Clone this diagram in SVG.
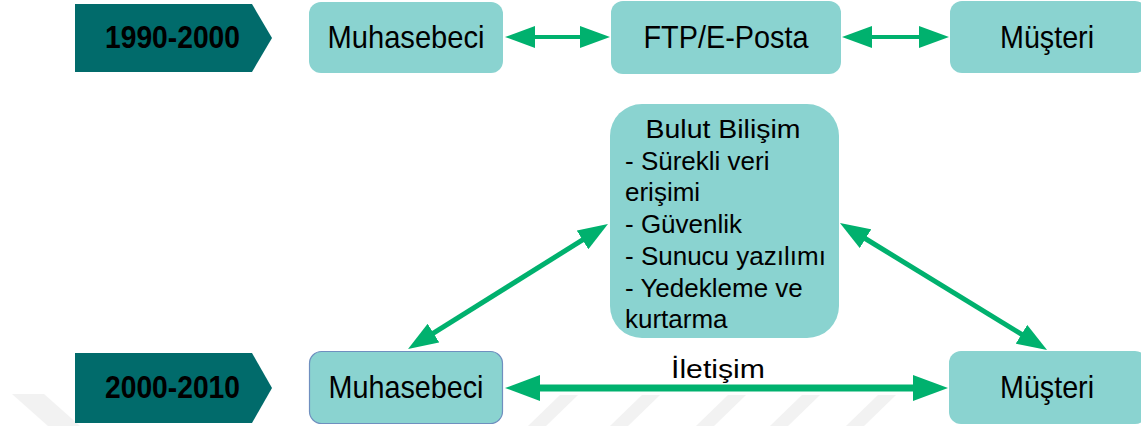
<svg xmlns="http://www.w3.org/2000/svg" width="1141" height="426" viewBox="0 0 1141 426">
  <style>
    .era { fill: #016B6B; }
    .era-t { font-family: "Liberation Sans", Arial, sans-serif; font-weight: bold; font-size: 32px; fill: #000; text-anchor: middle; }
    .box { fill: #8AD3D0; }
    .lbl { font-family: "Liberation Sans", Arial, sans-serif; font-size: 32px; fill: #000; text-anchor: middle; }
    .body { font-family: "Liberation Sans", Arial, sans-serif; font-size: 26px; fill: #000; }
    .link { stroke: #00B16E; fill: none; }
    .mark { fill: #F2F2F2; }
  </style>
  <defs>
    <marker id="head" markerUnits="userSpaceOnUse" markerWidth="30" markerHeight="22" viewBox="0 0 30 22" refX="10" refY="11" orient="auto-start-reverse">
      <path d="M0,0 L30,11 L0,22 Z" fill="#00B16E"/>
    </marker>
    <marker id="headL" markerUnits="userSpaceOnUse" markerWidth="35" markerHeight="26" viewBox="0 0 35 26" refX="12" refY="13" orient="auto-start-reverse">
      <path d="M0,0 L35,13 L0,26 Z" fill="#00B16E"/>
    </marker>
  </defs>

  <!-- faint background stripes along the bottom edge -->
  <g id="stripes">
    <polygon class="mark" points="12,394 44,394 80,426 48,426"/>
    <polygon class="mark" points="560,395 578,395 546,426 528,426"/>
    <polygon class="mark" points="642,395 660,395 628,426 610,426"/>
    <polygon class="mark" points="728,395 746,395 714,426 696,426"/>
    <polygon class="mark" points="802,395 820,395 788,426 770,426"/>
    <polygon class="mark" points="878,395 896,395 864,426 846,426"/>
  </g>

  <!-- connectors -->
  <g id="connectors">
    <line class="link" x1="525" y1="37" x2="590" y2="37" stroke-width="4" marker-start="url(#head)" marker-end="url(#head)"/>
    <line class="link" x1="862" y1="37" x2="929" y2="37" stroke-width="4" marker-start="url(#head)" marker-end="url(#head)"/>
    <line class="link" x1="591" y1="234.6" x2="425" y2="338.4" stroke-width="5" marker-start="url(#head)" marker-end="url(#head)"/>
    <line class="link" x1="857" y1="233.5" x2="1030" y2="339.5" stroke-width="5" marker-start="url(#head)" marker-end="url(#head)"/>
    <line class="link" x1="528" y1="388" x2="925" y2="388" stroke-width="7" marker-start="url(#headL)" marker-end="url(#headL)"/>
    <text class="body" x="718" y="378" text-anchor="middle" font-size="27" textLength="94" lengthAdjust="spacingAndGlyphs">İletişim</text>
  </g>

  <!-- period 1990-2000 -->
  <g id="era-1990">
    <polygon class="era" points="75,4 252,4 272,38 252,72 75,72"/>
    <text class="era-t" x="172.5" y="48" textLength="135" lengthAdjust="spacingAndGlyphs">1990-2000</text>
  </g>
  <g id="muhasebeci-1">
    <rect class="box" x="309" y="2" width="194" height="71" rx="12"/>
    <text class="lbl" x="406" y="48" textLength="157" lengthAdjust="spacingAndGlyphs">Muhasebeci</text>
  </g>
  <g id="ftp">
    <rect class="box" x="611" y="1" width="230" height="73" rx="12"/>
    <text class="lbl" x="726" y="48" textLength="165" lengthAdjust="spacingAndGlyphs">FTP/E-Posta</text>
  </g>
  <g id="musteri-1">
    <rect class="box" x="950" y="1" width="197" height="72" rx="12"/>
    <text class="lbl" x="1047" y="48" textLength="94" lengthAdjust="spacingAndGlyphs">Müşteri</text>
  </g>

  <!-- cloud computing -->
  <g id="bulut">
    <rect class="box" x="610" y="104" width="229" height="234" rx="32"/>
    <text class="body" x="723" y="138" text-anchor="middle" font-size="30" textLength="155" lengthAdjust="spacingAndGlyphs">Bulut Bilişim</text>
    <text class="body" x="625" y="170">- Sürekli veri</text>
    <text class="body" x="625" y="201">erişimi</text>
    <text class="body" x="625" y="233">- Güvenlik</text>
    <text class="body" x="625" y="265">- Sunucu yazılımı</text>
    <text class="body" x="625" y="297">- Yedekleme ve</text>
    <text class="body" x="625" y="328">kurtarma</text>
  </g>

  <!-- period 2000-2010 -->
  <g id="era-2000">
    <polygon class="era" points="75,353 252,353 272,388 252,423 75,423"/>
    <text class="era-t" x="172.5" y="398" textLength="135" lengthAdjust="spacingAndGlyphs">2000-2010</text>
  </g>
  <g id="muhasebeci-2">
    <rect class="box" x="309.5" y="351.5" width="193" height="72" rx="12" stroke="#6F8FBF" stroke-width="1.2"/>
    <text class="lbl" x="406" y="398" textLength="155" lengthAdjust="spacingAndGlyphs">Muhasebeci</text>
  </g>
  <g id="musteri-2">
    <rect class="box" x="949" y="351" width="198" height="73" rx="12"/>
    <text class="lbl" x="1047" y="398" textLength="94" lengthAdjust="spacingAndGlyphs">Müşteri</text>
  </g>
</svg>
